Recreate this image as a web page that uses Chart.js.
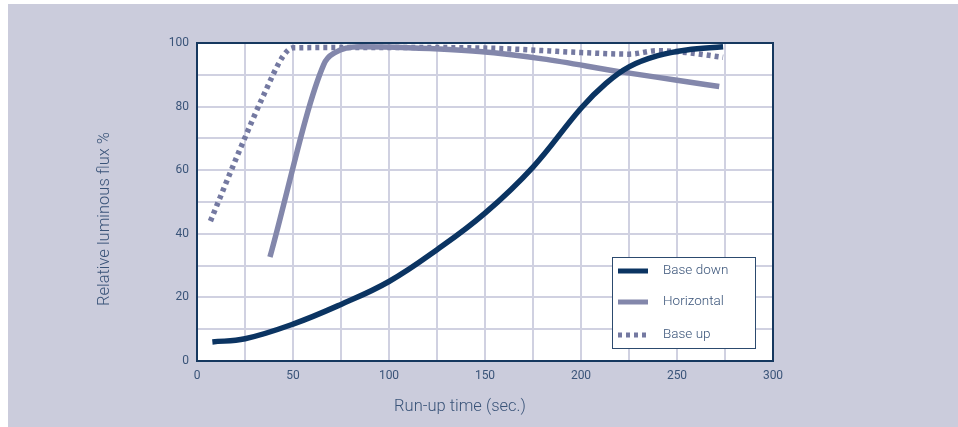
<!DOCTYPE html>
<html><head><meta charset="utf-8">
<script src="https://cdn.jsdelivr.net/npm/chart.js@4/dist/chart.umd.min.js"></script>
<style>
html,body{margin:0;padding:0;background:#fff;}
#wrap{position:absolute;left:0;top:0;width:958px;height:427px;}
</style></head>
<body><div id="wrap"><canvas id="c" width="958" height="427"></canvas></div>
<script>
const seriesNames = ['Base down', 'Horizontal', 'Base up'];
const baseDownX = [8, 25, 50, 75, 100, 125, 150, 175, 200, 213, 225, 240, 255, 274];
const baseDownY = [6, 7, 11.6, 17.8, 25, 35, 46.5, 61, 79.5, 87.3, 92.5, 96, 97.8, 98.8];
const horizontalX = [38, 66, 72, 85, 110, 147, 180, 220, 250, 272];
const horizontalY = [32.7, 93.2, 97, 98.8, 98.5, 97.3, 95, 91, 88.3, 86.3];
const baseUpX = [7, 22, 35, 45, 50, 100, 150, 200, 225, 240, 255, 274];
const baseUpY = [44, 66, 84, 96, 98.5, 98.6, 98.4, 97, 96.5, 97.6, 97, 95.5];
const xTickLabels = ['0', '50', '100', '150', '200', '250', '300'];
const yTickLabels = ['0', '20', '40', '60', '80', '100'];
const xTitle = 'Run-up time (sec.)';
const yTitle = 'Relative luminous flux %';

const colors = ['#0b3462', '#8387ab', '#7479a1'];
const textColor = '#3a5479';
const FONT = "'Roboto','Liberation Sans',sans-serif";

function pts(xs, ys){ return xs.map((x,i)=>({x:x, y:ys[i]})); }

const bgPlugin = {
  id:'bg',
  beforeDraw(chart){
    const ctx = chart.ctx;
    ctx.save();
    ctx.fillStyle = '#ffffff';
    ctx.fillRect(0,0,chart.width,chart.height);
    ctx.fillStyle = '#cbccdc';
    ctx.fillRect(8,4,chart.width-8,chart.height-4);
    const a = chart.chartArea;
    ctx.fillStyle = '#ffffff';
    ctx.fillRect(a.left,a.top,a.right-a.left,a.bottom-a.top);
    ctx.restore();
  },
  afterDatasetsDraw(chart){
    const ctx = chart.ctx, a = chart.chartArea;
    ctx.save();
    ctx.strokeStyle = '#16385f';
    ctx.lineWidth = 2;
    ctx.strokeRect(a.left, a.top, a.right-a.left, a.bottom-a.top);
    // axis titles
    ctx.fillStyle = textColor;
    ctx.font = "300 16.5px " + FONT;
    ctx.textAlign = 'center';
    ctx.textBaseline = 'middle';
    ctx.fillText(xTitle, 460, 407);
    ctx.save();
    ctx.translate(105, 219);
    ctx.rotate(-Math.PI/2);
    ctx.fillText(yTitle, 0, 0);
    ctx.restore();
    // legend
    const lx = 612.5, ly = 257.5, lw = 143, lh = 91;
    ctx.fillStyle = '#ffffff';
    ctx.fillRect(lx, ly, lw, lh);
    ctx.strokeStyle = '#2c4a6e';
    ctx.lineWidth = 1;
    ctx.strokeRect(lx, ly, lw, lh);
    const rows = [271, 302, 335];
    chart.data.datasets.forEach((ds, i)=>{
      const y = rows[i];
      ctx.beginPath();
      ctx.strokeStyle = ds.borderColor;
      ctx.lineWidth = 5;
      ctx.setLineDash(ds.borderDash || []);
      ctx.lineCap = 'butt';
      ctx.moveTo(618, y); ctx.lineTo(648, y);
      ctx.stroke();
      ctx.setLineDash([]);
      ctx.fillStyle = textColor;
      ctx.font = "300 13.5px " + FONT;
      ctx.textBaseline = 'middle';
      ctx.textAlign = 'left';
      ctx.fillText(ds.label, 663, y);
    });
    ctx.restore();
  }
};

new Chart(document.getElementById('c'), {
  type:'line',
  data:{
    datasets:[
      {label:seriesNames[0], data:pts(baseDownX, baseDownY), borderColor:colors[0], borderWidth:5.5, tension:0.4, pointRadius:0, borderCapStyle:'butt', fill:false},
      {label:seriesNames[1], data:pts(horizontalX, horizontalY), borderColor:colors[1], borderWidth:5.5, cubicInterpolationMode:'monotone', pointRadius:0, borderCapStyle:'butt', fill:false},
      {label:seriesNames[2], data:pts(baseUpX, baseUpY), borderColor:colors[2], borderWidth:5.5, borderDash:[4,4], cubicInterpolationMode:'monotone', pointRadius:0, borderCapStyle:'butt', fill:false}
    ]
  },
  options:{
    responsive:false,
    animation:false,
    events:[],
    layout:{padding:{left:95, right:185, top:43, bottom:10}},
    plugins:{legend:{display:false}, tooltip:{enabled:false}},
    scales:{
      x:{
        type:'linear', min:0, max:300,
        afterFit(s){ s.height = 56; },
        ticks:{stepSize:25, autoSkip:false, maxRotation:0, padding:8, color:textColor, font:{family:FONT, size:12},
          callback(v){ const i = xTickLabels.indexOf(String(v)); return i>=0 ? xTickLabels[i] : ''; }},
        grid:{color:'#d0d1e1', lineWidth:2, drawTicks:false},
        border:{display:false},
        title:{display:false}
      },
      y:{
        type:'linear', min:0, max:100,
        afterFit(s){ s.width = 102; },
        ticks:{stepSize:10, autoSkip:false, padding:8, color:textColor, font:{family:FONT, size:12},
          callback(v){ const i = yTickLabels.indexOf(String(v)); return i>=0 ? yTickLabels[i] : ''; }},
        grid:{color:'#d0d1e1', lineWidth:2, drawTicks:false},
        border:{display:false},
        title:{display:false}
      }
    }
  },
  plugins:[bgPlugin]
});
</script></body></html>
